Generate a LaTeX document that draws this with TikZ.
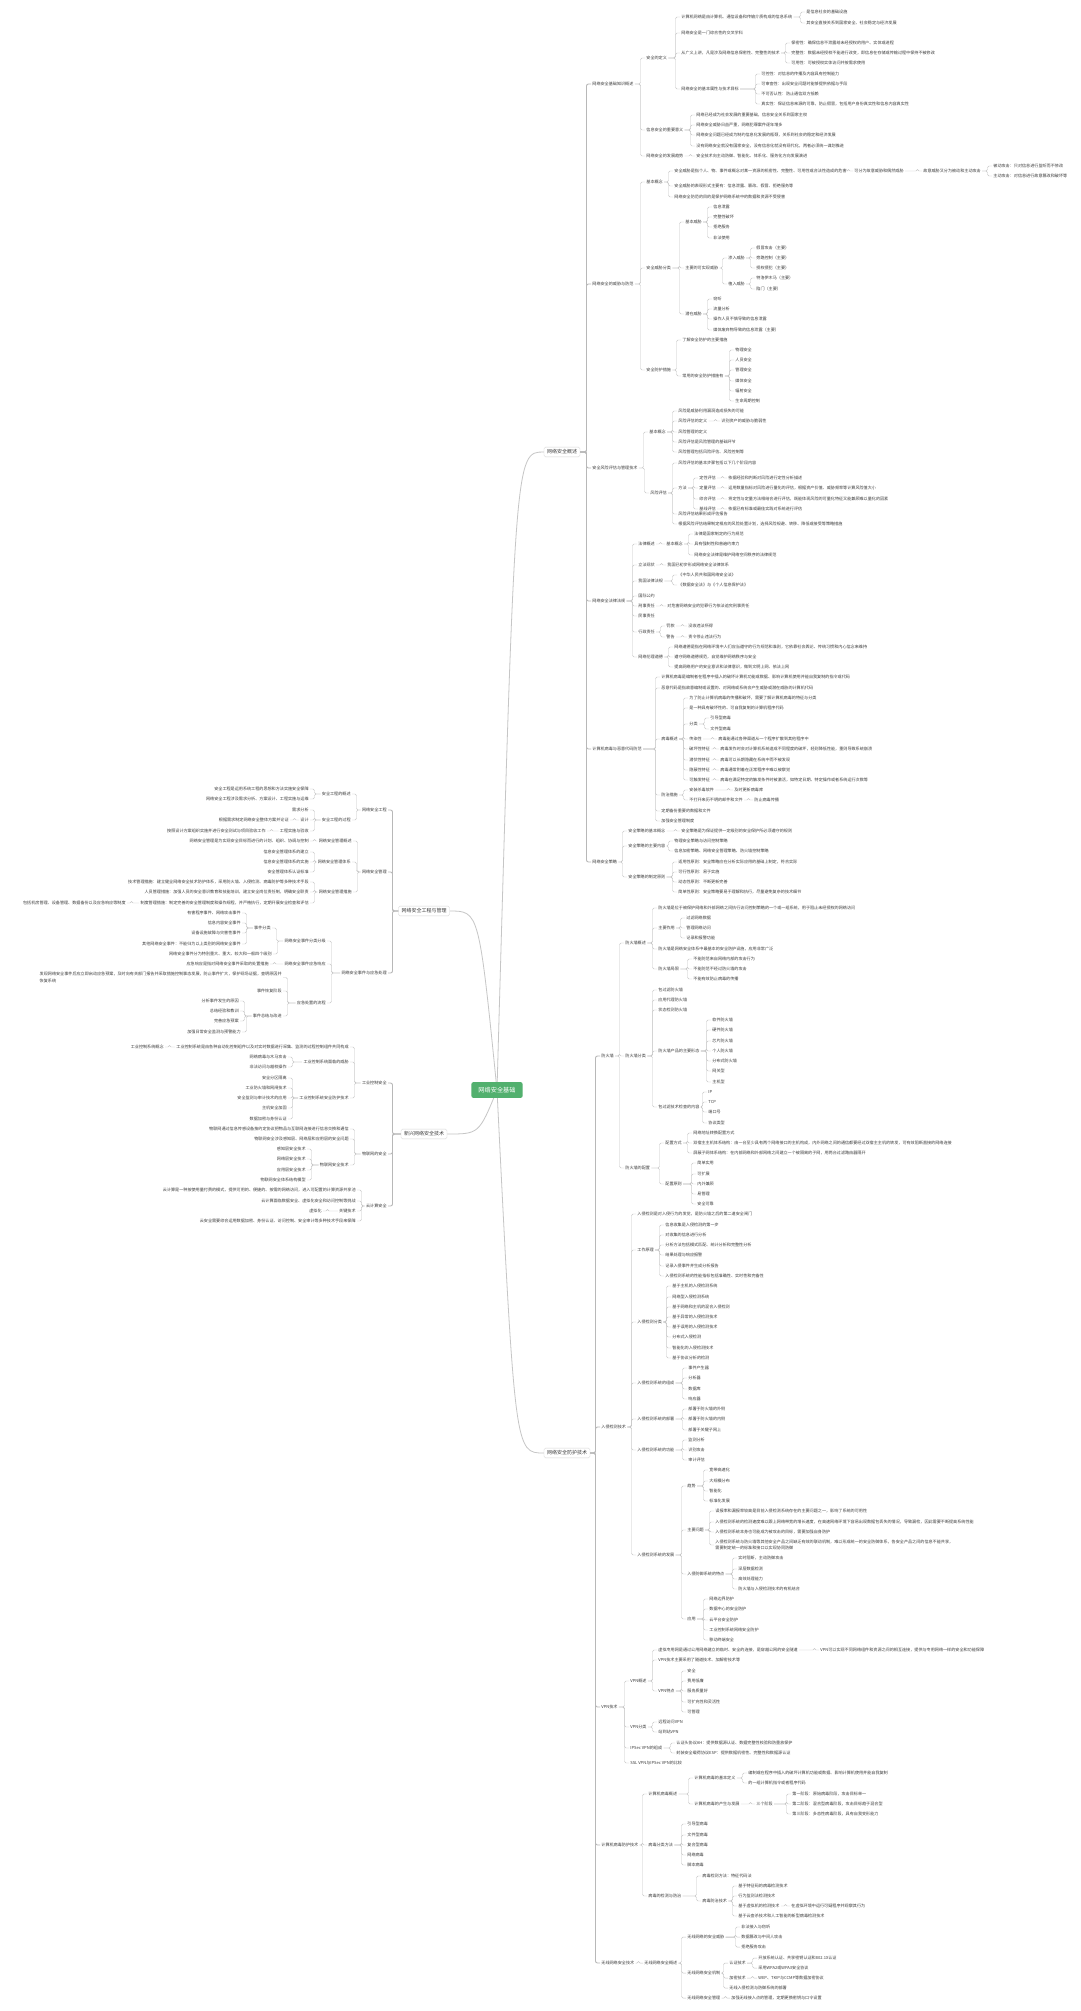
\documentclass[tikz,border=0pt]{standalone}
\usepackage{fontspec}
\setmainfont{Noto Sans CJK SC}
\usetikzlibrary{calc}
\definecolor{txt}{HTML}{3C3C3C}
\definecolor{ln}{HTML}{C6C6C6}
\definecolor{lnA}{HTML}{B8B8B8}
\definecolor{rootg}{HTML}{52B06E}
\definecolor{bx}{HTML}{D6D6D6}
\pgfdeclarelayer{bgA}
\pgfdeclarelayer{bgB}
\pgfsetlayers{bgA,bgB,main}
\newcommand\nR[4]{\node[t,anchor=west] (#1) at (#2,#3) {#4};}
\newcommand\nL[4]{\node[t,anchor=east] (#1) at (#2,#3) {#4};}
\newcommand\kR[3][cn]{\foreach \kk in {#3}{\draw[#1] (#2.east) -| ($(\kk.west)+(-4.5,0)$) -- (\kk.west);}}
\newcommand\kL[3][cn]{\foreach \kk in {#3}{\draw[#1] (#2.west) -| ($(\kk.east)+(4.5,0)$) -- (\kk.east);}}
\begin{document}
\begin{tikzpicture}[x=1pt,y=-1pt,
  t/.style={font=\fontsize{4.1}{5.6}\selectfont,text=txt,inner xsep=1.2pt,inner ysep=0.5pt},
  lone/.style={font=\fontsize{5}{6}\selectfont,text=txt,draw=bx,fill=white,rounded corners=1.5pt,inner xsep=3pt,inner ysep=2.5pt,line width=0.4pt},
  rootbox/.style={font=\fontsize{6.2}{7}\selectfont,text=white,fill=rootg,rounded corners=2pt,inner xsep=7pt,inner ysep=5pt},
  cn/.style={draw=ln,line width=0.45pt,rounded corners=1.5pt},
  cnA/.style={draw=lnA,line width=0.9pt,rounded corners=2pt},
  cv/.style={draw=ln,line width=0.8pt}]
\useasboundingbox (0,0) rectangle (1080,2011);
\begin{pgfonlayer}{bgA}
\fill[white] (0,0) rectangle (1080,2011);
\end{pgfonlayer}

% ---------------- root and level 1
\node[rootbox] (root) at (497,1090) {网络安全基础};
\node[lone] (L1) at (562,452) {网络安全概述};
\node[lone] (L2) at (567,1453) {网络安全防护技术};
\node[lone] (L3) at (424,911) {网络安全工程与管理};
\node[lone] (L4) at (424,1134) {新兴网络安全技术};
\begin{pgfonlayer}{bgB}
\draw[cv] (root.center) .. controls ($(root.center |- L1.west)+(18,0)$) .. (L1.west);
\draw[cv] (root.center) .. controls ($(root.center |- L2.west)+(18,0)$) .. (L2.west);
\draw[cv] (root.center) .. controls ($(root.center |- L3.east)+(-18,0)$) .. (L3.east);
\draw[cv] (root.center) .. controls ($(root.center |- L4.east)+(-18,0)$) .. (L4.east);
\end{pgfonlayer}

% ================= 网络安全概述
\nR{a1}{591}{84}{网络安全基础知识概述}
\nR{a2}{591}{284}{网络安全的威胁与防范}
\nR{a3}{591}{468}{安全风险评估与管理技术}
\nR{a4}{591}{601}{网络安全法律法规}
\nR{a5}{591}{749}{计算机病毒与恶意代码防范}
\nR{a6}{591}{862}{网络安全策略}
\kR[cnA]{L1}{a1,a2,a3,a4,a5,a6}

% a1
\nR{a1a}{645}{58}{安全的定义}
\nR{a1b}{645}{130}{信息安全的重要意义}
\nR{a1c}{645}{156}{网络安全的发展趋势}
\kR{a1}{a1a,a1b,a1c}
\nR{a1a1}{680}{17}{计算机网络是由计算机、通信设备和传输介质构成的信息系统}
\nR{a1a2}{680}{33}{网络安全是一门综合性的交叉学科}
\nR{a1a3}{680}{53}{从广义上讲，凡是涉及网络信息保密性、完整性的技术}
\nR{a1a4}{680}{89}{网络安全的基本属性与技术目标}
\kR{a1a}{a1a1,a1a2,a1a3,a1a4}
\nR{a1a1a}{805}{12}{是信息社会的基础设施}
\nR{a1a1b}{805}{23}{其安全直接关系到国家安全、社会稳定与经济发展}
\kR{a1a1}{a1a1a,a1a1b}
\nR{a1a3a}{790}{43}{保密性：确保信息不泄露给未经授权的用户、实体或进程}
\nR{a1a3b}{790}{53}{完整性：数据未经授权不能进行改变，即信息在存储或传输过程中保持不被修改}
\nR{a1a3c}{790}{63}{可用性：可被授权实体访问并按需求使用}
\kR{a1a3}{a1a3a,a1a3b,a1a3c}
\nR{a1a4a}{760}{74}{可控性：对信息的传播及内容具有控制能力}
\nR{a1a4b}{760}{84}{可审查性：出现安全问题时能够提供依据与手段}
\nR{a1a4c}{760}{94}{不可否认性：防止通信双方抵赖}
\nR{a1a4d}{760}{104}{真实性：保证信息来源的可靠，防止假冒，包括用户身份真实性和信息内容真实性}
\kR{a1a4}{a1a4a,a1a4b,a1a4c,a1a4d}
\nR{a1b1}{695}{115}{网络已经成为社会发展的重要基础，信息安全关系到国家主权}
\nR{a1b2}{695}{125}{网络安全威胁日益严重，网络犯罪案件逐年增多}
\nR{a1b3}{695}{135}{网络安全问题已经成为制约信息化发展的瓶颈，关系到社会的稳定和经济发展}
\nR{a1b4}{695}{146}{没有网络安全就没有国家安全，没有信息化就没有现代化，两者必须统一谋划推进}
\kR{a1b}{a1b1,a1b2,a1b3,a1b4}
\nR{a1c1}{695}{156}{安全技术向主动防御、智能化、体系化、服务化方向发展演进}
\kR{a1c}{a1c1}

% a2
\nR{a2a}{645}{182}{基本概念}
\nR{a2b}{645}{268}{安全威胁分类}
\nR{a2c}{645}{370}{安全防护措施}
\kR{a2}{a2a,a2b,a2c}
\nR{a2a1}{673}{171}{安全威胁是指个人、物、事件或概念对某一资源的机密性、完整性、可用性或合法性造成的危害}
\nR{a2a2}{673}{186}{安全威胁的表现形式主要有：信息泄露、篡改、假冒、拒绝服务等}
\nR{a2a3}{673}{197}{网络安全防范的目的是保护网络系统中的数据和资源不受侵害}
\kR{a2a}{a2a1,a2a2,a2a3}
\nR{a2a1x}{853}{171}{可分为故意威胁和偶然威胁}
\kR{a2a1}{a2a1x}
\nR{a2a1y}{922}{171}{故意威胁又分为被动和主动攻击}
\kR{a2a1x}{a2a1y}
\nR{a2a1y1}{992}{166}{被动攻击：只对信息进行监听而不修改}
\nR{a2a1y2}{992}{176}{主动攻击：对信息进行故意篡改和破坏等}
\kR{a2a1y}{a2a1y1,a2a1y2}
\nR{a2b1}{684}{222}{基本威胁}
\nR{a2b2}{684}{268}{主要的可实现威胁}
\nR{a2b3}{684}{314}{潜在威胁}
\kR{a2b}{a2b1,a2b2,a2b3}
\nR{a2b1a}{712}{207}{信息泄露}
\nR{a2b1b}{712}{217}{完整性破坏}
\nR{a2b1c}{712}{227}{拒绝服务}
\nR{a2b1d}{712}{238}{非法使用}
\kR{a2b1}{a2b1a,a2b1b,a2b1c,a2b1d}
\nR{a2b2a}{727}{258}{渗入威胁}
\nR{a2b2b}{727}{284}{植入威胁}
\kR{a2b2}{a2b2a,a2b2b}
\nR{a2b2a1}{755}{248}{假冒攻击（主要）}
\nR{a2b2a2}{755}{258}{旁路控制（主要）}
\nR{a2b2a3}{755}{268}{授权侵犯（主要）}
\kR{a2b2a}{a2b2a1,a2b2a2,a2b2a3}
\nR{a2b2b1}{755}{278}{特洛伊木马（主要）}
\nR{a2b2b2}{755}{289}{陷门（主要）}
\kR{a2b2b}{a2b2b1,a2b2b2}
\nR{a2b3a}{712}{299}{窃听}
\nR{a2b3b}{712}{309}{流量分析}
\nR{a2b3c}{712}{319}{操作人员不慎导致的信息泄露}
\nR{a2b3d}{712}{330}{媒体废弃物导致的信息泄露（主要）}
\kR{a2b3}{a2b3a,a2b3b,a2b3c,a2b3d}
\nR{a2c1}{681}{340}{了解安全防护的主要措施}
\nR{a2c2}{681}{376}{常用的安全防护措施有}
\kR{a2c}{a2c1,a2c2}
\nR{a2c2a}{734}{350}{物理安全}
\nR{a2c2b}{734}{360}{人员安全}
\nR{a2c2c}{734}{370}{管理安全}
\nR{a2c2d}{734}{381}{媒体安全}
\nR{a2c2e}{734}{391}{辐射安全}
\nR{a2c2f}{734}{401}{生命周期控制}
\kR{a2c2}{a2c2a,a2c2b,a2c2c,a2c2d,a2c2e,a2c2f}

% a3
\nR{a3a}{648}{432}{基本概念}
\nR{a3b}{649}{493}{风险评估}
\kR{a3}{a3a,a3b}
\nR{a3a1}{677}{411}{风险是威胁利用漏洞造成损失的可能}
\nR{a3a2}{677}{421}{风险评估的定义}
\nR{a3a3}{677}{432}{风险管理的定义}
\nR{a3a4}{677}{442}{风险评估是风险管理的基础环节}
\nR{a3a5}{677}{452}{风险管理包括风险评估、风险控制等}
\kR{a3a}{a3a1,a3a2,a3a3,a3a4,a3a5}
\nR{a3a2x}{720}{421}{识别资产的威胁与脆弱性}
\kR{a3a2}{a3a2x}
\nR{a3b1}{677}{463}{风险评估的基本步骤包括以下几个阶段内容}
\nR{a3b2}{677}{488}{方法}
\nR{a3b3}{677}{514}{风险评估结果形成评估报告}
\nR{a3b4}{677}{524}{根据风险评估结果制定相应的风险处置计划，选择风险规避、转移、降低或接受等策略措施}
\kR{a3b}{a3b1,a3b2,a3b3,a3b4}
\nR{m1}{698}{478}{定性评估}
\nR{m2}{698}{488}{定量评估}
\nR{m3}{698}{499}{综合评估}
\nR{m4}{698}{509}{基线评估}
\kR{a3b2}{m1,m2,m3,m4}
\nR{m1x}{727}{478}{依据经验和判断对风险进行定性分析描述}
\nR{m2x}{727}{488}{运用数量指标对风险进行量化的评估，根据资产价值、威胁频率等计算风险值大小}
\nR{m3x}{727}{499}{将定性与定量方法相结合进行评估，既能体现风险的可量化特征又能兼顾难以量化的因素}
\nR{m4x}{727}{509}{依据已有标准或最佳实践对系统进行评估}
\kR{m1}{m1x}\kR{m2}{m2x}\kR{m3}{m3x}\kR{m4}{m4x}

% a4
\nR{a4a}{637}{544}{法律概述}
\nR{a4b}{637}{565}{立法现状}
\nR{a4c}{637}{581}{我国法律法规}
\nR{a4d}{637}{596}{国际公约}
\nR{a4e}{637}{606}{刑事责任}
\nR{a4f}{637}{616}{民事责任}
\nR{a4g}{637}{632}{行政责任}
\nR{a4h}{637}{657}{网络伦理道德}
\kR{a4}{a4a,a4b,a4c,a4d,a4e,a4f,a4g,a4h}
\nR{a4a1}{665}{544}{基本概念}
\kR{a4a}{a4a1}
\nR{a4a1a}{693}{534}{法律是国家制定的行为规范}
\nR{a4a1b}{693}{544}{具有强制性和普遍约束力}
\nR{a4a1c}{693}{555}{网络安全法律是维护网络空间秩序的法律规范}
\kR{a4a1}{a4a1a,a4a1b,a4a1c}
\nR{a4b1}{666}{565}{我国已初步形成网络安全法律体系}
\kR{a4b}{a4b1}
\nR{a4c1}{677}{575}{《中华人民共和国网络安全法》}
\nR{a4c2}{677}{585}{《数据安全法》与《个人信息保护法》}
\kR{a4c}{a4c1,a4c2}
\nR{a4e1}{666}{606}{对危害网络安全的犯罪行为依法追究刑事责任}
\kR{a4e}{a4e1}
\nR{a4g1}{665}{626}{罚款}
\nR{a4g2}{665}{637}{警告}
\kR{a4g}{a4g1,a4g2}
\nR{a4g1x}{687}{626}{没收违法所得}
\nR{a4g2x}{687}{637}{责令停止违法行为}
\kR{a4g1}{a4g1x}\kR{a4g2}{a4g2x}
\nR{a4h1}{673}{647}{网络道德是指在网络环境中人们应当遵守的行为规范和准则，它依靠社会舆论、传统习惯和内心信念来维持}
\nR{a4h2}{673}{657}{遵守网络道德规范，自觉维护网络秩序与安全}
\nR{a4h3}{673}{667}{提高网络用户的安全意识和法律意识，做到文明上网、依法上网}
\kR{a4h}{a4h1,a4h2,a4h3}

% a5
\nR{a5a}{660}{677}{计算机病毒是编制者在程序中插入的破坏计算机功能或数据、影响计算机使用并能自我复制的指令或代码}
\nR{a5b}{660}{688}{恶意代码是指故意编制或设置的、对网络或系统会产生威胁或潜在威胁的计算机代码}
\nR{a5c}{660}{739}{病毒概述}
\nR{a5d}{660}{795}{防治措施}
\nR{a5e}{660}{811}{定期备份重要的数据和文件}
\nR{a5f}{660}{821}{加强安全管理制度}
\kR{a5}{a5a,a5b,a5c,a5d,a5e,a5f}
\nR{a5c1}{688}{698}{为了防止计算机病毒的传播和破坏，需要了解计算机病毒的特征与分类}
\nR{a5c2}{688}{708}{是一种具有破坏性的、可自我复制的计算机程序代码}
\nR{a5c3}{688}{724}{分类}
\nR{a5c4}{688}{739}{传染性}
\nR{a5c5}{688}{749}{破坏性特征}
\nR{a5c6}{688}{760}{潜伏性特征}
\nR{a5c7}{688}{770}{隐蔽性特征}
\nR{a5c8}{688}{780}{可触发特征}
\kR{a5c}{a5c1,a5c2,a5c3,a5c4,a5c5,a5c6,a5c7,a5c8}
\nR{a5c3a}{709}{718}{引导型病毒}
\nR{a5c3b}{709}{729}{文件型病毒}
\kR{a5c3}{a5c3a,a5c3b}
\nR{a5c4x}{717}{739}{病毒能通过各种渠道从一个程序扩散到其他程序中}
\nR{a5c5x}{719}{749}{病毒发作时会对计算机系统造成不同程度的破坏，轻则降低性能，重则导致系统崩溃}
\nR{a5c6x}{719}{760}{病毒可以长期隐藏在系统中而不被发现}
\nR{a5c7x}{719}{770}{病毒通常附着在正常程序中难以被察觉}
\nR{a5c8x}{719}{780}{病毒在满足特定的触发条件时被激活，如特定日期、特定操作或者系统运行次数等}
\kR{a5c4}{a5c4x}\kR{a5c5}{a5c5x}\kR{a5c6}{a5c6x}\kR{a5c7}{a5c7x}\kR{a5c8}{a5c8x}
\nR{a5d1}{688}{790}{安装杀毒软件}
\nR{a5d2}{688}{800}{不打开来历不明的邮件和文件}
\kR{a5d}{a5d1,a5d2}
\nR{a5d1x}{733}{790}{及时更新病毒库}
\nR{a5d2x}{753}{800}{防止病毒传播}
\kR{a5d1}{a5d1x}\kR{a5d2}{a5d2x}

% a6
\nR{a6a}{627}{831}{安全策略的基本概念}
\nR{a6b}{627}{846}{安全策略的主要内容}
\nR{a6c}{627}{877}{安全策略的制定原则}
\kR{a6}{a6a,a6b,a6c}
\nR{a6a1}{680}{831}{安全策略是为保证提供一定级别的安全保护所必须遵守的规则}
\kR{a6a}{a6a1}
\nR{a6b1}{673}{841}{物理安全策略与访问控制策略}
\nR{a6b2}{673}{851}{信息加密策略、网络安全管理策略、防火墙控制策略}
\kR{a6b}{a6b1,a6b2}
\nR{a6c1}{677}{862}{适用性原则：安全策略应在分析实际应用的基础上制定，符合实际}
\nR{a6c2}{677}{872}{可行性原则：易于实施}
\nR{a6c3}{677}{882}{动态性原则：不断更新完善}
\nR{a6c4}{677}{892}{简单性原则：安全策略要易于理解和执行，尽量避免复杂的技术细节}
\kR{a6c}{a6c1,a6c2,a6c3,a6c4}

% ================= 网络安全防护技术
\nR{b1}{600}{1056}{防火墙}
\nR{b2}{600}{1427}{入侵检测技术}
\nR{b3}{600}{1707}{VPN技术}
\nR{b4}{600}{1845}{计算机病毒防护技术}
\nR{b5}{600}{1963}{无线网络安全技术}
\kR[cnA]{L2}{b1,b2,b3,b4,b5}

% b1
\nR{b1a}{624}{943}{防火墙概述}
\nR{b1b}{624}{1056}{防火墙分类}
\nR{b1c}{624}{1168}{防火墙的配置}
\kR{b1}{b1a,b1b,b1c}
\nR{b1a1}{657}{908}{防火墙是位于被保护网络和外部网络之间执行访问控制策略的一个或一组系统，用于阻止未经授权的网络访问}
\nR{b1a2}{657}{928}{主要作用}
\nR{b1a3}{657}{949}{防火墙是网络安全体系中最基本的安全防护设施，应用非常广泛}
\nR{b1a4}{657}{969}{防火墙局限}
\kR{b1a}{b1a1,b1a2,b1a3,b1a4}
\nR{b1a2a}{685}{918}{过滤网络数据}
\nR{b1a2b}{685}{928}{管理网络访问}
\nR{b1a2c}{685}{938}{记录和报警功能}
\kR{b1a2}{b1a2a,b1a2b,b1a2c}
\nR{b1a4a}{692}{959}{不能防范来自网络内部的攻击行为}
\nR{b1a4b}{692}{969}{不能防范不经过防火墙的攻击}
\nR{b1a4c}{692}{979}{不能有效防止病毒的传播}
\kR{b1a4}{b1a4a,b1a4b,b1a4c}
\nR{b1b1}{657}{990}{包过滤防火墙}
\nR{b1b2}{657}{1000}{应用代理防火墙}
\nR{b1b3}{657}{1010}{状态检测防火墙}
\nR{b1b4}{657}{1051}{防火墙产品的主要形态}
\nR{b1b5}{657}{1107}{包过滤技术检查的内容}
\kR{b1b}{b1b1,b1b2,b1b3,b1b4,b1b5}
\nR{p1}{711}{1020}{软件防火墙}
\nR{p2}{711}{1030}{硬件防火墙}
\nR{p3}{711}{1041}{芯片防火墙}
\nR{p4}{711}{1051}{个人防火墙}
\nR{p5}{711}{1061}{分布式防火墙}
\nR{p6}{711}{1071}{网关型}
\nR{p7}{711}{1082}{主机型}
\kR{b1b4}{p1,p2,p3,p4,p5,p6,p7}
\nR{q1}{707}{1092}{IP}
\nR{q2}{707}{1102}{TCP}
\nR{q3}{707}{1112}{端口号}
\nR{q4}{707}{1123}{协议类型}
\kR{b1b5}{q1,q2,q3,q4}
\nR{b1c1}{664}{1143}{配置方式}
\nR{b1c2}{664}{1184}{配置原则}
\kR{b1c}{b1c1,b1c2}
\nR{b1c1a}{692}{1133}{网络地址转换配置方式}
\nR{b1c1b}{692}{1143}{双宿主主机体系结构：由一台至少具有两个网络接口的主机构成，内外网络之间的通信都要经过双宿主主机的转发，可有效阻断直接的网络连接}
\nR{b1c1c}{692}{1153}{屏蔽子网体系结构：在内部网络和外部网络之间建立一个被隔离的子网，用两台过滤路由器隔开}
\kR{b1c1}{b1c1a,b1c1b,b1c1c}
\nR{r1}{696}{1163}{简单实用}
\nR{r2}{696}{1174}{可扩展}
\nR{r3}{696}{1184}{内外兼顾}
\nR{r4}{696}{1194}{易管理}
\nR{r5}{696}{1204}{安全可靠}
\kR{b1c2}{r1,r2,r3,r4,r5}

% b2
\nR{b2a}{636}{1214}{入侵检测是对入侵行为的发觉，是防火墙之后的第二道安全闸门}
\nR{b2b}{636}{1250}{工作原理}
\nR{b2c}{636}{1322}{入侵检测分类}
\nR{b2d}{636}{1383}{入侵检测系统的组成}
\nR{b2e}{636}{1419}{入侵检测系统的部署}
\nR{b2f}{636}{1450}{入侵检测系统的功能}
\nR{b2g}{636}{1555}{入侵检测系统的发展}
\kR{b2}{b2a,b2b,b2c,b2d,b2e,b2f,b2g}
\nR{s1}{664}{1225}{信息收集是入侵检测的第一步}
\nR{s2}{664}{1235}{对收集的信息进行分析}
\nR{s3}{664}{1245}{分析方法包括模式匹配、统计分析和完整性分析}
\nR{s4}{664}{1255}{结果处理与响应报警}
\nR{s5}{664}{1266}{记录入侵事件并生成分析报告}
\nR{s6}{664}{1276}{入侵检测系统的性能指标包括准确性、实时性和完备性}
\kR{b2b}{s1,s2,s3,s4,s5,s6}
\nR{u1}{671}{1286}{基于主机的入侵检测系统}
\nR{u2}{671}{1297}{网络型入侵检测系统}
\nR{u3}{671}{1307}{基于网络和主机的混合入侵检测}
\nR{u4}{671}{1317}{基于异常的入侵检测技术}
\nR{u5}{671}{1327}{基于误用的入侵检测技术}
\nR{u6}{671}{1337}{分布式入侵检测}
\nR{u7}{671}{1348}{智能化的入侵检测技术}
\nR{u8}{671}{1358}{基于协议分析的检测}
\kR{b2c}{u1,u2,u3,u4,u5,u6,u7,u8}
\nR{v1}{687}{1368}{事件产生器}
\nR{v2}{687}{1378}{分析器}
\nR{v3}{687}{1389}{数据库}
\nR{v4}{687}{1399}{响应器}
\kR{b2d}{v1,v2,v3,v4}
\nR{w1}{687}{1409}{部署于防火墙的外侧}
\nR{w2}{687}{1419}{部署于防火墙的内侧}
\nR{w3}{687}{1430}{部署于关键子网上}
\kR{b2e}{w1,w2,w3}
\nR{z1}{687}{1440}{监测分析}
\nR{z2}{687}{1450}{识别攻击}
\nR{z3}{687}{1460}{审计评估}
\kR{b2f}{z1,z2,z3}
\nR{b2g1}{686}{1486}{趋势}
\nR{b2g2}{686}{1530}{主要问题}
\nR{b2g3}{686}{1574}{入侵防御系统的特点}
\nR{b2g4}{686}{1619}{应用}
\kR{b2g}{b2g1,b2g2,b2g3,b2g4}
\nR{g11}{708}{1470}{宽带高速化}
\nR{g12}{708}{1481}{大规模分布}
\nR{g13}{708}{1491}{智能化}
\nR{g14}{708}{1501}{标准化发展}
\kR{b2g1}{g11,g12,g13,g14}
\nR{g21}{714}{1511}{误报率和漏报率较高是目前入侵检测系统存在的主要问题之一，影响了系统的可用性}
\nR{g22}{714}{1522}{入侵检测系统的检测速度难以跟上网络带宽的增长速度，在高速网络环境下容易出现数据包丢失的情况，导致漏检，因此需要不断提高系统性能}
\nR{g23}{714}{1532}{入侵检测系统本身也可能成为被攻击的目标，需要加强自身防护}
\node[t,anchor=west,align=left,font=\fontsize{4.1}{6}\selectfont] (g24) at (714,1545) {入侵检测系统与防火墙等其他安全产品之间缺乏有效的联动机制，难以形成统一的安全防御体系，各安全产品之间的信息不能共享，\\需要制定统一的标准和接口以实现协同防御};
\kR{b2g2}{g21,g22,g23,g24}
\nR{g31}{737}{1558}{实时阻断，主动防御攻击}
\nR{g32}{737}{1569}{深层数据检测}
\nR{g33}{737}{1579}{高效处理能力}
\nR{g34}{737}{1589}{防火墙与入侵检测技术的有机结合}
\kR{b2g3}{g31,g32,g33,g34}
\nR{g41}{708}{1599}{网络边界防护}
\nR{g42}{708}{1609}{数据中心的安全防护}
\nR{g43}{708}{1620}{云平台安全防护}
\nR{g44}{708}{1630}{工业控制系统网络安全防护}
\nR{g45}{708}{1640}{移动终端安全}
\kR{b2g4}{g41,g42,g43,g44,g45}

% b3
\nR{b3a}{629}{1681}{VPN概述}
\nR{b3b}{629}{1727}{VPN分类}
\nR{b3c}{629}{1748}{IPSec VPN的组成}
\nR{b3d}{629}{1763}{SSL VPN与IPSec VPN的比较}
\kR{b3}{b3a,b3b,b3c,b3d}
\nR{b3a1}{657}{1650}{虚拟专用网是通过公用网络建立的临时、安全的连接，是穿越公网的安全隧道}
\nR{b3a2}{657}{1660}{VPN技术主要采用了隧道技术、加解密技术等}
\nR{b3a3}{657}{1691}{VPN特点}
\kR{b3a}{b3a1,b3a2,b3a3}
\nR{b3a1x}{819}{1650}{VPN可以实现不同网络组件和资源之间的相互连接，提供与专用网络一样的安全和功能保障}
\kR{b3a1}{b3a1x}
\nR{y1}{686}{1671}{安全}
\nR{y2}{686}{1681}{费用低廉}
\nR{y3}{686}{1691}{服务质量好}
\nR{y4}{686}{1702}{可扩充性和灵活性}
\nR{y5}{686}{1712}{可管理}
\kR{b3a3}{y1,y2,y3,y4,y5}
\nR{b3b1}{657}{1722}{远程访问VPN}
\nR{b3b2}{657}{1732}{站到站VPN}
\kR{b3b}{b3b1,b3b2}
\nR{b3c1}{675}{1743}{认证头协议AH：提供数据源认证、数据完整性校验和防重放保护}
\nR{b3c2}{675}{1753}{封装安全载荷协议ESP：提供数据机密性、完整性和数据源认证}
\kR{b3c}{b3c1,b3c2}

% b4
\nR{b4a}{647}{1794}{计算机病毒概述}
\nR{b4b}{647}{1845}{病毒分类方法}
\nR{b4c}{647}{1896}{病毒的检测与防治}
\kR{b4}{b4a,b4b,b4c}
\nR{b4a1}{693}{1778}{计算机病毒的基本定义}
\nR{b4a2}{693}{1804}{计算机病毒的产生与发展}
\kR{b4a}{b4a1,b4a2}
\nR{b4a1a}{747}{1773}{编制或在程序中插入的破坏计算机功能或数据、影响计算机使用并能自我复制}
\nR{b4a1b}{747}{1783}{的一组计算机指令或者程序代码}
\kR{b4a1}{b4a1a,b4a1b}
\nR{b4a2x}{755}{1804}{三个阶段}
\kR{b4a2}{b4a2x}
\nR{h1}{791}{1794}{第一阶段：原始病毒阶段，攻击目标单一}
\nR{h2}{791}{1804}{第二阶段：混合型病毒阶段，攻击目标趋于混合型}
\nR{h3}{791}{1814}{第三阶段：多态性病毒阶段，具有自我变形能力}
\kR{b4a2x}{h1,h2,h3}
\nR{k1}{686}{1824}{引导型病毒}
\nR{k2}{686}{1835}{文件型病毒}
\nR{k3}{686}{1845}{复合型病毒}
\nR{k4}{686}{1855}{网络病毒}
\nR{k5}{686}{1865}{脚本病毒}
\kR{b4b}{k1,k2,k3,k4,k5}
\nR{b4c1}{701}{1876}{病毒检测方法：特征代码法}
\nR{b4c2}{701}{1901}{病毒防治技术}
\kR{b4c}{b4c1,b4c2}
\nR{e1}{737}{1886}{基于特征码的病毒检测技术}
\nR{e2}{737}{1896}{行为监测法检测技术}
\nR{e3}{737}{1906}{基于虚拟机的检测技术}
\nR{e4}{737}{1916}{基于云查杀技术和人工智能的新型病毒检测技术}
\kR{b4c2}{e1,e2,e3,e4}
\nR{e3x}{790}{1906}{在虚拟环境中运行可疑程序并观察其行为}
\kR{e3}{e3x}

% b5
\nR{b5a}{643}{1963}{无线网络安全概述}
\kR{b5}{b5a}
\nR{b5a1}{686}{1937}{无线网络的安全威胁}
\nR{b5a2}{686}{1973}{无线网络安全机制}
\nR{b5a3}{686}{1998}{无线网络安全管理}
\kR{b5a}{b5a1,b5a2,b5a3}
\nR{f1}{740}{1927}{非法接入与窃听}
\nR{f2}{740}{1937}{数据篡改与中间人攻击}
\nR{f3}{740}{1947}{拒绝服务攻击}
\kR{b5a1}{f1,f2,f3}
\nR{b5a2a}{728}{1963}{认证技术}
\nR{b5a2b}{728}{1978}{加密技术}
\nR{b5a2c}{728}{1988}{无线入侵检测与防御系统的部署}
\kR{b5a2}{b5a2a,b5a2b,b5a2c}
\nR{f4}{757}{1958}{开放系统认证、共享密钥认证和802.1X认证}
\nR{f5}{757}{1968}{采用WPA2或WPA3安全协议}
\kR{b5a2a}{f4,f5}
\nR{f6}{757}{1978}{WEP、TKIP与CCMP等数据加密协议}
\kR{b5a2b}{f6}
\nR{f7}{730}{1998}{加强无线接入点的管理，定期更换密钥与口令设置}
\kR{b5a3}{f7}

% ================= 网络安全工程与管理 (left)
\nL{c1}{388}{810}{网络安全工程}
\nL{c2}{388}{872}{网络安全管理}
\nL{c3}{388}{973}{网络安全事件与应急处理}
\kL[cnA]{L3}{c1,c2,c3}
\nL{c1a}{352}{794}{安全工程的概述}
\nL{c1b}{352}{820}{安全工程的过程}
\kL{c1}{c1a,c1b}
\nL{c1a1}{310}{789}{安全工程是运用系统工程的思想和方法实施安全保障}
\nL{c1a2}{310}{799}{网络安全工程涉及需求分析、方案设计、工程实施与运维}
\kL{c1a}{c1a1,c1a2}
\nL{c1b1}{310}{810}{需求分析}
\nL{c1b2}{310}{820}{设计}
\nL{c1b3}{310}{831}{工程实施与验收}
\kL{c1b}{c1b1,c1b2,c1b3}
\nL{c1b2x}{290}{820}{根据需求制定网络安全整体方案并论证}
\kL{c1b2}{c1b2x}
\nL{c1b3x}{267}{831}{按照设计方案组织实施并进行安全测试与项目验收工作}
\kL{c1b3}{c1b3x}
\nL{c2a}{353}{841}{网络安全管理概述}
\nL{c2b}{352}{862}{网络安全管理体系}
\nL{c2c}{353}{892}{网络安全管理措施}
\kL{c2}{c2a,c2b,c2c}
\nL{c2a1}{310}{841}{网络安全管理是为实现安全目标而进行的计划、组织、协调与控制}
\kL{c2a}{c2a1}
\nL{c2b1}{310}{852}{信息安全管理体系的建立}
\nL{c2b2}{310}{862}{信息安全管理体系的实施}
\nL{c2b3}{310}{872}{安全管理体系认证标准}
\kL{c2b}{c2b1,c2b2,c2b3}
\nL{c2c1}{310}{882}{技术管理措施：建立健全网络安全技术防护体系，采用防火墙、入侵检测、病毒防护等多种技术手段}
\nL{c2c2}{310}{892}{人员管理措施：加强人员的安全意识教育和技能培训，建立安全岗位责任制，明确安全职责}
\nL{c2c3}{310}{903}{制度管理措施：制定完善的安全管理制度和操作规程，并严格执行，定期开展安全检查和评估}
\kL{c2c}{c2c1,c2c2,c2c3}
\nL{c2c3x}{127}{903}{包括机房管理、设备管理、数据备份以及应急响应等制度}
\kL{c2c3}{c2c3x}
\nL{c3a}{327}{941}{网络安全事件分类分级}
\nL{c3b}{327}{964}{网络安全事件应急响应}
\nL{c3c}{327}{1003}{应急处置的流程}
\kL{c3}{c3a,c3b,c3c}
\nL{c3a1}{272}{928}{事件分类}
\nL{c3a2}{273}{954}{网络安全事件分为特别重大、重大、较大和一般四个级别}
\kL{c3a}{c3a1,c3a2}
\nL{c3a1a}{242}{913}{有害程序事件、网络攻击事件}
\nL{c3a1b}{242}{923}{信息内容安全事件}
\nL{c3a1c}{242}{933}{设备设施故障与灾害性事件}
\nL{c3a1d}{242}{944}{其他网络安全事件：不能归为以上类别的网络安全事件}
\kL{c3a1}{c3a1a,c3a1b,c3a1c,c3a1d}
\nL{c3b1}{270}{964}{应急响应是指对网络安全事件采取的处置措施}
\kL{c3b}{c3b1}
\node[t,anchor=east,align=left,font=\fontsize{4.1}{6.5}\selectfont] (c3c1) at (283,977.5) {发现网络安全事件后应立即启动应急预案，及时向有关部门报告并采取措施控制事态发展，防止事件扩大，保护现场证据，查明原因并\\恢复系统};
\nL{c3c2}{283}{991}{事件恢复阶段}
\nL{c3c3}{283}{1016}{事件总结与改进}
\kL{c3c}{c3c1,c3c2,c3c3}
\nL{c3c3a}{240}{1001}{分析事件发生的原因}
\nL{c3c3b}{240}{1011}{总结经验和教训}
\nL{c3c3c}{240}{1021}{完善应急预案}
\nL{c3c3d}{242}{1032}{加强日常安全监测与预警能力}
\kL{c3c3}{c3c3a,c3c3b,c3c3c,c3c3d}

% ================= 新兴网络安全技术 (left)
\nL{d1}{388}{1083}{工业控制安全}
\nL{d2}{388}{1154}{物联网的安全}
\nL{d3}{388}{1206}{云计算安全}
\kL[cnA]{L4}{d1,d2,d3}
\nL{d1a}{350}{1047}{工业控制系统是由各种自动化控制组件以及对实时数据进行采集、监测的过程控制组件共同构成}
\nL{d1b}{350}{1062}{工业控制系统面临的威胁}
\nL{d1c}{350}{1098}{工业控制系统安全防护技术}
\kL{d1}{d1a,d1b,d1c}
\nL{d1ax}{165}{1047}{工业控制系统概念}
\kL{d1a}{d1ax}
\nL{d1b1}{288}{1057}{网络病毒与木马攻击}
\nL{d1b2}{288}{1067}{非法访问与越权操作}
\kL{d1b}{d1b1,d1b2}
\nL{d1c1}{288}{1078}{安全分区隔离}
\nL{d1c2}{288}{1088}{工业防火墙和网闸技术}
\nL{d1c3}{288}{1098}{安全监测与审计技术的应用}
\nL{d1c4}{288}{1108}{主机安全加固}
\nL{d1c5}{288}{1119}{数据加密与身份认证}
\kL{d1c}{d1c1,d1c2,d1c3,d1c4,d1c5}
\nL{d2a}{350}{1129}{物联网通过信息传感设备按约定协议把物品与互联网连接进行信息交换和通信}
\nL{d2b}{350}{1139}{物联网安全涉及感知层、网络层和应用层的安全问题}
\nL{d2c}{350}{1165}{物联网安全技术}
\kL{d2}{d2a,d2b,d2c}
\nL{d2c1}{307}{1149}{感知层安全技术}
\nL{d2c2}{307}{1159}{网络层安全技术}
\nL{d2c3}{307}{1170}{应用层安全技术}
\nL{d2c4}{307}{1180}{物联网安全体系结构模型}
\kL{d2c}{d2c1,d2c2,d2c3,d2c4}
\nL{d3a}{357}{1190}{云计算是一种按使用量付费的模式，提供可用的、便捷的、按需的网络访问，进入可配置的计算资源共享池}
\nL{d3b}{357}{1201}{云计算面临数据安全、虚拟化安全和访问控制等挑战}
\nL{d3c}{357}{1211}{关键技术}
\nL{d3d}{357}{1221}{云安全需要综合运用数据加密、身份认证、访问控制、安全审计等多种技术手段来保障}
\kL{d3}{d3a,d3b,d3c,d3d}
\nL{d3cx}{323}{1211}{虚拟化}
\kL{d3c}{d3cx}
\end{tikzpicture}
\end{document}
